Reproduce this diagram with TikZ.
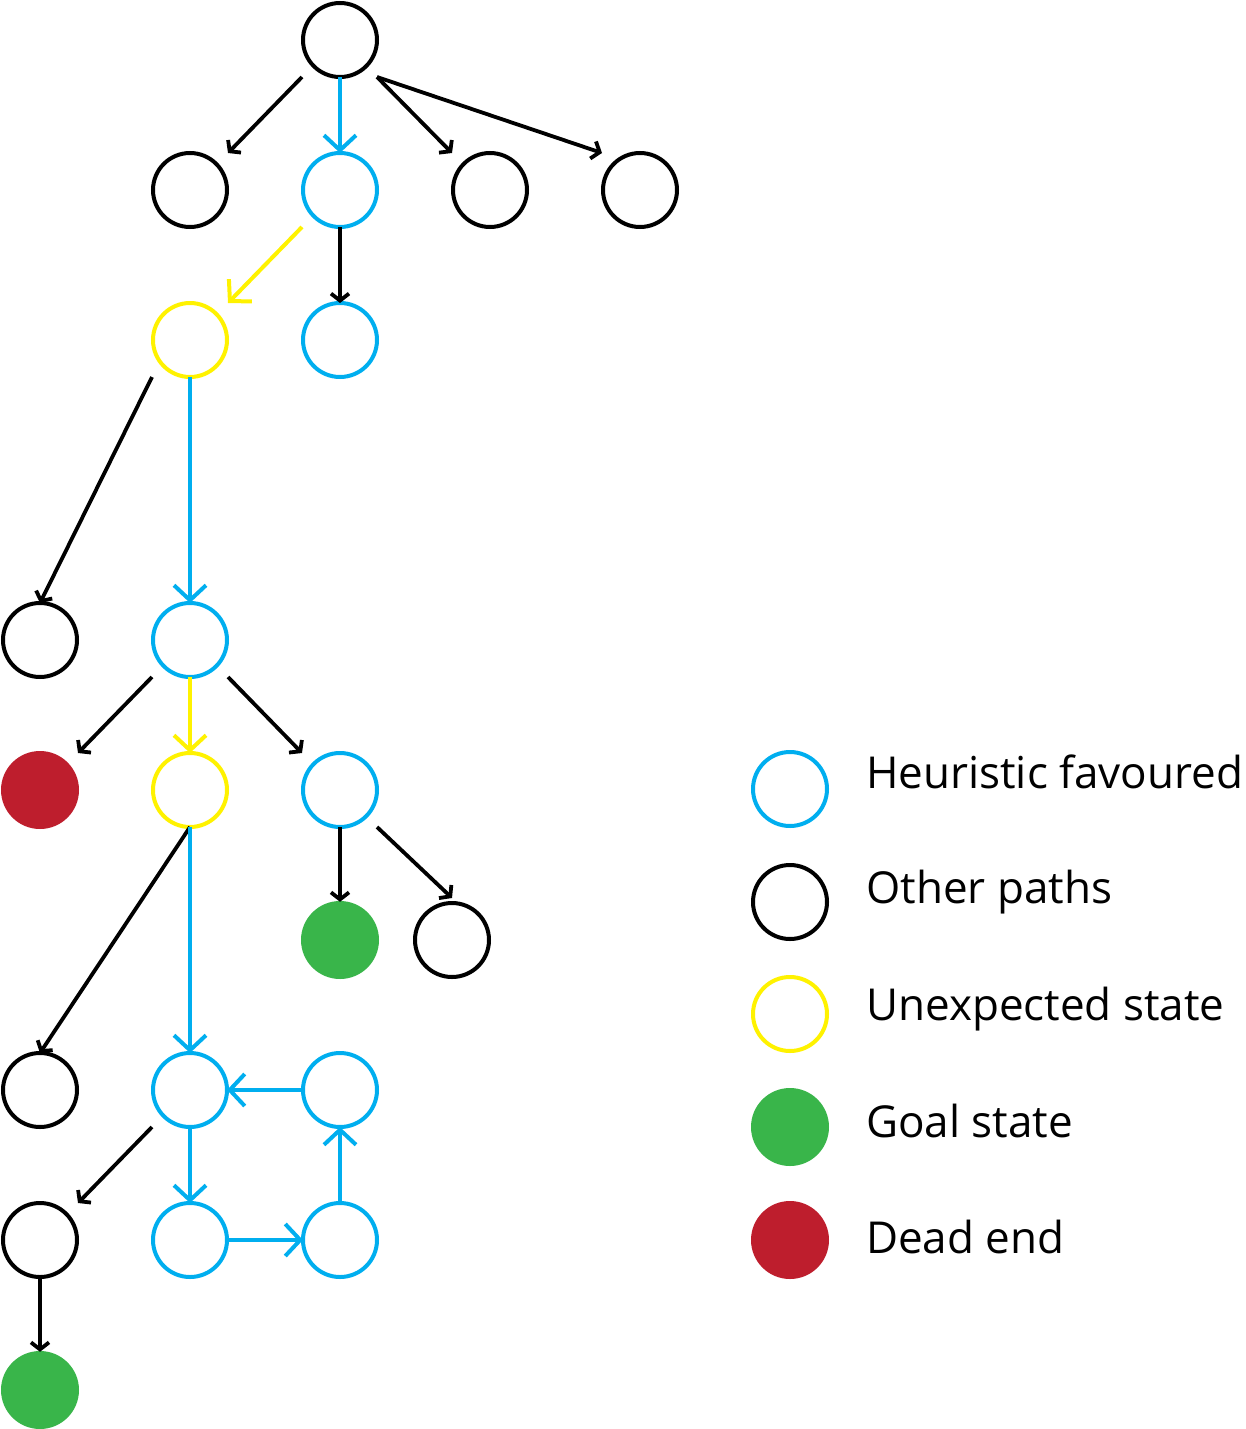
\documentclass[tikz,border=0pt]{standalone}
\usepackage{fontspec}
\setmainfont{Open Sans}
\usetikzlibrary{arrows.meta}
\definecolor{hblue}{HTML}{00AEEF}
\definecolor{uyel}{HTML}{FFF200}
\definecolor{ggreen}{HTML}{39B54A}
\definecolor{dred}{HTML}{BE1E2D}
\tikzset{
  st/.style={circle,draw,line width=4pt,minimum size=74pt,inner sep=0pt,outer sep=0pt},
  bluest/.style={st,draw=hblue},
  blackst/.style={st,draw=black},
  yelst/.style={st,draw=uyel},
  goalst/.style={circle,fill=ggreen,minimum size=78pt,inner sep=0pt},
  deadst/.style={circle,fill=dred,minimum size=78pt,inner sep=0pt},
  oth/.style={line width=3.8pt,draw=black,-{Straight Barb[length=7pt,width=18pt]}},
  heu/.style={line width=4pt,draw=hblue,-{Straight Barb[length=15pt,width=32pt]}},
  une/.style={line width=4pt,draw=uyel,-{Straight Barb[length=15pt,width=32pt]}},
  lab/.style={anchor=base west,inner sep=0pt,font=\fontsize{44}{50}\selectfont},
}
\begin{document}
\begin{tikzpicture}[x=1pt,y=-1pt]
\useasboundingbox (0,0) rectangle (1245,1429);
% nodes
\node[blackst] (r) at (340,40) {};
\node[blackst] (a1) at (190,190) {};
\node[bluest] (a2) at (340,190) {};
\node[blackst] (a3) at (490,190) {};
\node[blackst] (a4) at (640,190) {};
\node[yelst] (b1) at (190,340) {};
\node[bluest] (b2) at (340,340) {};
\node[blackst] (c1) at (40,640) {};
\node[bluest] (c2) at (190,640) {};
\node[deadst] (d1) at (40,790) {};
\node[yelst] (d2) at (190,790) {};
\node[bluest] (d3) at (340,790) {};
\node[goalst] (e1) at (340,940) {};
\node[blackst] (e2) at (452,940) {};
\node[blackst] (f1) at (40,1090) {};
\node[bluest] (f2) at (190,1090) {};
\node[bluest] (f3) at (340,1090) {};
\node[blackst] (g1) at (40,1240) {};
\node[bluest] (g2) at (190,1240) {};
\node[bluest] (g3) at (340,1240) {};
\node[goalst] (h1) at (40,1390) {};
% connectors
\draw[oth] ([shift={(-38,37)}]r.center) -- ([shift={(38,-37)}]a1.center);
\draw[heu] (r.south) -- (a2.north);
\draw[oth] ([shift={(37,37)}]r.center) -- ([shift={(-38,-37)}]a3.center);
\draw[oth] ([shift={(37,37)}]r.center) -- ([shift={(-38,-37)}]a4.center);
\draw[une] ([shift={(-38,37)}]a2.center) -- ([shift={(38,-37)}]b1.center);
\draw[oth] (a2.south) -- (b2.north);
\draw[oth] ([shift={(-38,37)}]b1.center) -- (c1.north);
\draw[heu] (b1.south) -- (c2.north);
\draw[oth] ([shift={(-38,37)}]c2.center) -- ([shift={(38,-37)}]d1.center);
\draw[une] (c2.south) -- (d2.north);
\draw[oth] ([shift={(38,37)}]c2.center) -- ([shift={(-38,-37)}]d3.center);
\draw[oth] (d3.south) -- ([yshift=-1pt]e1.north);
\draw[oth] ([shift={(37,37)}]d3.center) -- ([shift={(0,-42)}]e2.center);
\draw[oth] (d2.south) -- (f1.north);
\draw[heu] (d2.south) -- (f2.north);
\draw[heu] (f3.west) -- (f2.east);
\draw[oth] ([shift={(-38,37)}]f2.center) -- ([shift={(38,-37)}]g1.center);
\draw[heu] (f2.south) -- (g2.north);
\draw[heu] (g2.east) -- (g3.west);
\draw[heu] (g3.north) -- (f3.south);
\draw[oth] (g1.south) -- ([yshift=-1pt]h1.north);
% legend
\node[bluest] (l1) at (790,789) {};
\node[blackst] (l2) at (790,902) {};
\node[yelst] (l3) at (790,1014) {};
\node[goalst] (l4) at (790,1127) {};
\node[deadst] (l5) at (790,1240) {};
\node[lab] (t1) at (866,788) {Heuristic favoured};
\node[lab] (t2) at (866,903) {Other paths};
\node[lab] (t3) at (866,1020) {Unexpected state};
\node[lab] (t4) at (866,1137) {Goal state};
\node[lab] (t5) at (866,1253) {Dead end};
\end{tikzpicture}
\end{document}
